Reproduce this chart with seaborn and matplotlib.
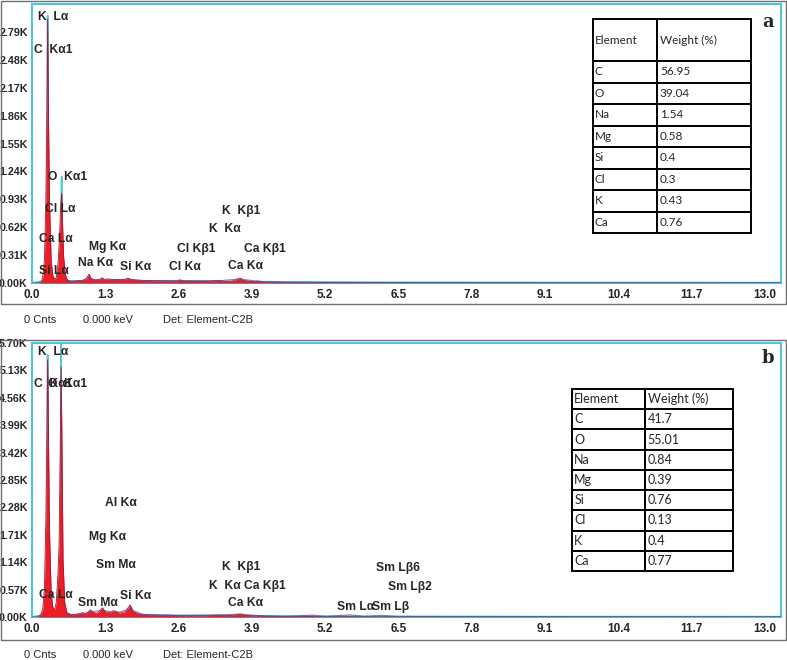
import numpy as np
import pandas as pd
import matplotlib.pyplot as plt
import seaborn as sns
from matplotlib.patches import Rectangle
from matplotlib.ticker import FuncFormatter

# ---- spectrum a (red fill) : keV / counts
energy_a = [0.00, 0.10, 0.16, 0.19, 0.22, 0.245, 0.265, 0.277, 0.29, 0.31, 0.34, 0.37, 0.40, 0.43,
            0.46, 0.49, 0.51, 0.525, 0.54, 0.56, 0.59, 0.63, 0.70, 0.80, 0.90, 0.97, 1.01, 1.05,
            1.12, 1.20, 1.24, 1.28, 1.35, 1.45, 1.55, 1.65, 1.70, 1.75, 1.85, 2.00, 2.20, 2.40,
            2.55, 2.62, 2.70, 2.90, 3.10, 3.31, 3.40, 3.55, 3.65, 3.69, 3.75, 3.90, 4.01, 4.10,
            4.40, 5.00, 6.00, 8.00, 13.3]
counts_a = [0, 0, 5, 60, 250, 900, 2000, 2930, 2000, 900, 250, 80, 40, 60,
            200, 550, 880, 1000, 700, 300, 90, 30, 20, 25, 30, 50, 100, 50,
            35, 40, 60, 40, 45, 40, 38, 40, 55, 40, 32, 28, 25, 22,
            20, 35, 20, 18, 18, 30, 18, 20, 45, 55, 30, 15, 22, 12,
            8, 5, 3, 2, 0]
# cyan overlay a
cyan_energy_a = [0.00, 0.25, 0.272, 0.277, 0.282, 0.30, 0.50, 0.52, 0.525, 0.53, 0.55, 0.70, 2.00, 4.00, 6.00, 9.00, 13.3]
cyan_counts_a = [0, 30, 400, 2970, 400, 30, 30, 300, 1180, 300, 30, 20, 25, 15, 8, 5, 4]
# blue overlay a
blue_energy_a = [0.60, 0.90, 1.01, 1.10, 1.30, 1.50, 1.70, 2.00, 2.60, 3.31, 3.69, 4.01, 4.50, 5.50, 7.00, 13.3]
blue_counts_a = [15, 25, 70, 30, 35, 30, 45, 22, 28, 25, 45, 18, 8, 6, 4, 3]

# ---- spectrum b
energy_b = [0.00, 0.10, 0.15, 0.19, 0.22, 0.245, 0.265, 0.277, 0.29, 0.31, 0.34, 0.37, 0.40, 0.43,
            0.46, 0.48, 0.50, 0.515, 0.53, 0.55, 0.58, 0.62, 0.70, 0.80, 0.90, 0.95, 1.00, 1.04,
            1.08, 1.15, 1.20, 1.25, 1.30, 1.38, 1.44, 1.49, 1.55, 1.65, 1.74, 1.80, 1.90, 2.10,
            2.30, 2.45, 2.60, 2.80, 3.10, 3.31, 3.45, 3.60, 3.69, 3.78, 3.95, 4.01, 4.10, 4.50,
            5.00, 6.00, 8.00, 13.3]
counts_b = [0, 0, 40, 150, 600, 2000, 4000, 5350, 4000, 1800, 500, 200, 150, 300,
            900, 1500, 3500, 5200, 3800, 1200, 300, 90, 50, 60, 90, 70, 110, 150,
            100, 80, 130, 190, 110, 90, 130, 120, 80, 110, 250, 110, 60, 45,
            40, 38, 30, 25, 25, 40, 25, 45, 65, 35, 20, 30, 15, 10,
            8, 5, 3, 0]
cyan_energy_b = [0.00, 0.25, 0.272, 0.277, 0.282, 0.30, 0.49, 0.51, 0.515, 0.52, 0.54, 0.70, 2.00, 4.00, 6.00, 9.00, 13.3]
cyan_counts_b = [0, 60, 700, 5450, 700, 60, 60, 900, 6000, 900, 60, 40, 40, 25, 15, 8, 6]
blue_energy_b = [0.60, 0.90, 1.04, 1.25, 1.49, 1.74, 2.00, 2.60, 3.31, 3.69, 4.01, 4.50, 4.98, 5.20, 5.64, 5.90, 6.17, 6.50, 7.50, 13.3]
blue_counts_b = [40, 60, 110, 140, 90, 160, 40, 30, 45, 60, 30, 12, 40, 10, 45, 10, 35, 8, 5, 4]

# ---- peak labels (text, keV, counts)
labels_a = [("K  Lα", 0.106, 2955), ("C  Kα1", 0.035, 2589), ("O  Kα1", 0.28, 1178),
            ("Cl Lα", 0.23, 822), ("Ca Lα", 0.13, 489), ("Si Lα", 0.13, 133),
            ("Na Kα", 0.82, 222), ("Mg Kα", 1.01, 400), ("Si Kα", 1.56, 178),
            ("Cl Kβ1", 2.57, 378), ("Cl Kα", 2.43, 178), ("K  Kβ1", 3.37, 800),
            ("K  Kα", 3.14, 600), ("Ca Kβ1", 3.76, 378), ("Ca Kα", 3.48, 189)]
labels_b = [("K  Lα", 0.106, 5513), ("C  Kα1", 0.035, 4842), ("O  Kα1", 0.28, 4842),
            ("Ca Lα", 0.13, 461), ("Al Kα", 1.29, 2368), ("Mg Kα", 1.01, 1656),
            ("Sm Mα", 1.13, 1090), ("Sm Mα", 0.82, 293), ("Si Kα", 1.56, 440),
            ("K  Kβ1", 3.37, 1048), ("K  Kα", 3.14, 650), ("Ca Kβ1", 3.76, 650),
            ("Ca Kα", 3.48, 293), ("Sm Lβ6", 6.10, 1027), ("Sm Lβ2", 6.31, 629),
            ("Sm Lα", 5.41, 210), ("Sm Lβ", 6.03, 210)]

# ---- composition tables
elements = ["C", "O", "Na", "Mg", "Si", "Cl", "K", "Ca"]
weight_a = ["56.95", "39.04", "1.54", "0.58", "0.4", "0.3", "0.43", "0.76"]
weight_b = ["41.7", "55.01", "0.84", "0.39", "0.76", "0.13", "0.4", "0.77"]

x_ticks = np.arange(0, 13.01, 1.3)
y_step_a = 310
y_step_b = 570

sns.set_style("white")
plt.rcParams['font.family'] = ['Liberation Sans', 'DejaVu Sans']

fig = plt.figure(figsize=(7.87, 6.6), dpi=100)
ax_a = fig.add_axes([32/787, 1 - 283/660, 749/787, 279/660])
ax_b = fig.add_axes([32/787, 1 - 617/660, 749/787, 274/660])

# outer gray frames
for y0, y1 in [(1, 304), (340, 640)]:
    fig.patches.append(Rectangle((1/787, 1 - y1/660), 785/787, (y1 - y0)/660,
                                 transform=fig.transFigure, fill=False,
                                 edgecolor="#707070", linewidth=1.0))

cyan = "#4fc6de"


def draw_panel(ax, e, c, ce, cc, be, bc, labels, ystep, ytop, nticks):
    df = pd.DataFrame({"keV": e, "counts": c})
    dc = pd.DataFrame({"keV": ce, "counts": cc})
    db = pd.DataFrame({"keV": be, "counts": bc})
    sns.lineplot(data=dc, x="keV", y="counts", ax=ax, color=cyan, linewidth=1.2, zorder=2)
    ax.fill_between(df["keV"], 0, df["counts"], color="#ee1c24", linewidth=0, zorder=3)
    sns.lineplot(data=df, x="keV", y="counts", ax=ax, color="#9e1a3c", linewidth=0.6, zorder=4)
    sns.lineplot(data=db, x="keV", y="counts", ax=ax, color="#5a4fb0", linewidth=0.8,
                 alpha=0.7, zorder=4)
    for txt, xk, yc in labels:
        ax.text(xk, yc, txt, fontsize=8.7, fontweight="bold", ha="left", va="center", zorder=6,
                family=["Liberation Sans", "DejaVu Sans"])
    ax.set_xlim(0, 13.28)
    ax.set_ylim(0, ytop)
    ax.set_xticks(x_ticks)
    ax.set_xticklabels([f"{v:.1f}" for v in x_ticks])
    ax.set_yticks([i * ystep for i in range(nticks)])
    ax.yaxis.set_major_formatter(FuncFormatter(lambda v, _: f"{v/1000:.2f}K"))
    ax.set_xlabel("")
    ax.set_ylabel("")
    ax.tick_params(axis="both", direction="out", length=2, width=0.8, color="#333333",
                   labelsize=7.7, pad=1)
    ax.tick_params(axis="x", labelsize=8.5, pad=2)
    for lab in ax.get_xticklabels() + ax.get_yticklabels():
        lab.set_fontweight("bold")
    for sp in ax.spines.values():
        sp.set_color(cyan)
        sp.set_linewidth(1.5)
        sp.set_visible(True)


draw_panel(ax_a, energy_a, counts_a, cyan_energy_a, cyan_counts_a, blue_energy_a, blue_counts_a,
           labels_a, y_step_a, 3100, 10)
draw_panel(ax_b, energy_b, counts_b, cyan_energy_b, cyan_counts_b, blue_energy_b, blue_counts_b,
           labels_b, y_step_b, 5700, 11)


def draw_table(ax, weights, bbox, col0, header_scale, fsize):
    cell_text = [[el, w] for el, w in zip(elements, weights)]
    tb = ax.table(cellText=cell_text, colLabels=["Element", "Weight (%)"], cellLoc="left",
                  colLoc="left", bbox=bbox, colWidths=[col0, 1 - col0], zorder=7)
    tb.auto_set_font_size(False)
    for (r, cidx), cell in tb.get_celld().items():
        cell.set_edgecolor("black")
        cell.set_linewidth(1.4)
        cell.set_facecolor("white")
        cell.get_text().set_fontsize(fsize)
        cell.get_text().set_fontfamily("Lato")
        cell.PAD = 0.03
        if r == 0:
            cell.set_height(cell.get_height() * header_scale)
    return tb


draw_table(ax_a, weight_a, [0.749, 0.179, 0.211, 0.767], 0.405, 1.95, 8.5)
draw_table(ax_b, weight_b, [0.721, 0.168, 0.215, 0.664], 0.453, 1.0, 9)

fig.text(768/787, 1 - 22/660, "a", fontsize=13, fontweight="bold", family="DejaVu Serif",
         ha="center", va="center")
fig.text(768/787, 1 - 358/660, "b", fontsize=13, fontweight="bold", family="DejaVu Serif",
         ha="center", va="center")

for yp in [320, 655]:
    fig.text(40/787, 1 - yp/660, "0 Cnts", fontsize=8, ha="center", va="center")
    fig.text(108/787, 1 - yp/660, "0.000 keV", fontsize=8, ha="center", va="center")
    fig.text(163/787, 1 - yp/660, "Det: Element-C2B", fontsize=8, ha="left", va="center")

plt.savefig("out.png", dpi=100)
